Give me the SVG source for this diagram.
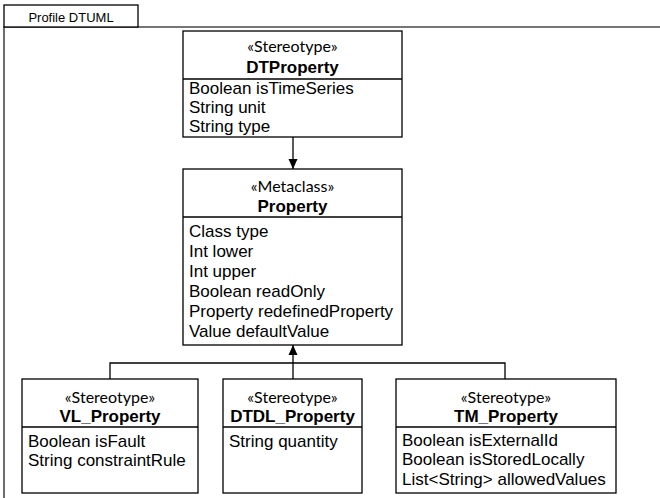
<svg xmlns="http://www.w3.org/2000/svg" width="660" height="498" viewBox="0 0 660 498">
<defs>
<marker id="arr" viewBox="0 0 10 10" refX="10" refY="5" markerWidth="10" markerHeight="10" markerUnits="userSpaceOnUse" orient="auto">
<path d="M0,0.5 L10,5 L0,9.5 Z" fill="#000"/>
</marker>
</defs>
<style>
.box{fill:#fff;stroke:#000;stroke-width:1.3}
.sep{stroke:#000;stroke-width:1.3}
.frame{fill:none;stroke:#4a4a4a;stroke-width:1.6}
.st{font-family:Lato,"Open Sans",sans-serif;font-size:16px;fill:#000;text-anchor:middle}
.nm{font-family:"Liberation Sans",Arial,sans-serif;font-size:17px;font-weight:bold;fill:#000;text-anchor:middle}
.at{font-family:"Liberation Sans",Arial,sans-serif;font-size:17px;fill:#000}
.title{font-family:"Liberation Sans",Arial,sans-serif;font-size:13px;fill:#000;text-anchor:middle}
.conn{fill:none;stroke:#000;stroke-width:1.3}
</style>
<rect width="660" height="498" fill="#fff"/>
<g id="frame">
<path class="frame" d="M4,498 V27 H660"/>
<rect x="4" y="5" width="134" height="22" fill="#fff" stroke="#000" stroke-width="1.3"/>
<text class="title" x="71" y="22">Profile DTUML</text>
</g>
<g id="connectors">
<line class="conn" x1="293" y1="137" x2="293" y2="169" marker-end="url(#arr)"/>
<polyline class="conn" points="110,379 110,363 505,363 505,379"/>
<line class="conn" x1="293" y1="379" x2="293" y2="345" marker-end="url(#arr)"/>
</g>
<g id="DTProperty">
<rect class="box" x="183" y="31" width="219" height="106"/>
<line class="sep" x1="183" y1="79" x2="402" y2="79"/>
<text class="st" x="292.5" y="52">«Stereotype»</text>
<text class="nm" x="292.5" y="73">DTProperty</text>
<text class="at" x="189" y="93.5">Boolean isTimeSeries</text>
<text class="at" x="189" y="113">String unit</text>
<text class="at" x="189" y="132.3">String type</text>
</g>
<g id="Property">
<rect class="box" x="183" y="169" width="219" height="176"/>
<line class="sep" x1="183" y1="217" x2="402" y2="217"/>
<text class="st" x="292.5" y="191.5">«Metaclass»</text>
<text class="nm" x="292.5" y="211.5">Property</text>
<text class="at" x="189" y="236.5">Class type</text>
<text class="at" x="189" y="256.5">Int lower</text>
<text class="at" x="189" y="276.5">Int upper</text>
<text class="at" x="189" y="296.5">Boolean readOnly</text>
<text class="at" x="189" y="316.5">Property redefinedProperty</text>
<text class="at" x="189" y="336.5">Value defaultValue</text>
</g>
<g id="VL_Property">
<rect class="box" x="22" y="379" width="176" height="114"/>
<line class="sep" x1="22" y1="427" x2="198" y2="427"/>
<text class="st" x="110" y="403">«Stereotype»</text>
<text class="nm" x="110" y="422">VL_Property</text>
<text class="at" x="28" y="446.5">Boolean isFault</text>
<text class="at" x="28" y="466">String constraintRule</text>
</g>
<g id="DTDL_Property">
<rect class="box" x="223" y="379" width="139" height="114"/>
<line class="sep" x1="223" y1="427" x2="362" y2="427"/>
<text class="st" x="292.5" y="403">«Stereotype»</text>
<text class="nm" x="292.5" y="422">DTDL_Property</text>
<text class="at" x="229" y="446.5">String quantity</text>
</g>
<g id="TM_Property">
<rect class="box" x="396" y="379" width="220" height="114"/>
<line class="sep" x1="396" y1="427" x2="616" y2="427"/>
<text class="st" x="506" y="403">«Stereotype»</text>
<text class="nm" x="506" y="422">TM_Property</text>
<text class="at" x="402" y="445.5">Boolean isExternalId</text>
<text class="at" x="402" y="465">Boolean isStoredLocally</text>
<text class="at" x="402" y="484.5">List&lt;String&gt; allowedValues</text>
</g>
</svg>
